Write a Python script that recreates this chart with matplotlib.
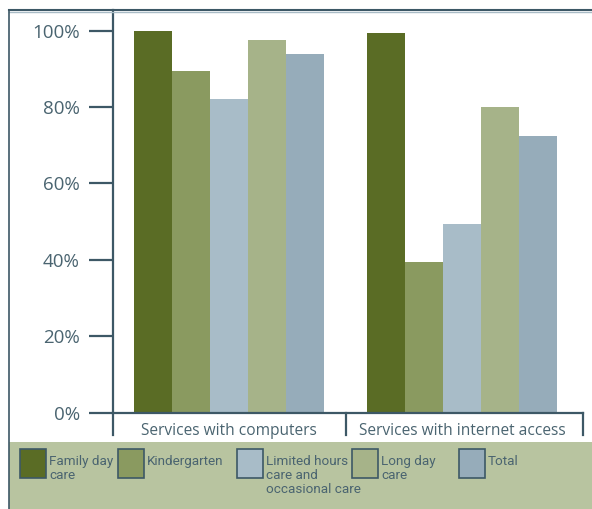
import numpy as np
import matplotlib.pyplot as plt
from matplotlib.patches import Rectangle
from matplotlib.lines import Line2D

categories = ["Services with computers", "Services with internet access"]
series_names = ["Family day\ncare", "Kindergarten",
                "Limited hours\ncare and\noccasional care", "Long day\ncare", "Total"]
family_day_care = [100, 99.5]
kindergarten = [89.5, 39.5]
limited_hours = [82, 49.5]
long_day_care = [97.5, 80]
total = [94, 72.5]
yticks = [0, 20, 40, 60, 80, 100]

series = [family_day_care, kindergarten, limited_hours, long_day_care, total]
colors = ["#5a6c25", "#8a9a60", "#a8bcc8", "#a6b389", "#96acba"]
axis_col = "#3d5866"
text_col = "#4a6470"
band_col = "#b8c4a0"

plt.rcParams['font.family'] = ['Open Sans', 'DejaVu Sans']

W, H = 592, 509
fx = lambda px: px / W
fy = lambda py: 1 - py / H

fig = plt.figure(figsize=(W / 100, H / 100), dpi=100)
fig.patch.set_facecolor("white")

# legend band at the bottom
fig.patches.append(Rectangle((fx(9), 0), 1 - fx(9), fy(442), transform=fig.transFigure,
                             facecolor=band_col, edgecolor="none", zorder=0))
# outer frame: top and left
fig.lines.append(Line2D([fx(9), 1], [fy(10), fy(10)], transform=fig.transFigure,
                        color=axis_col, lw=1.5))
fig.lines.append(Line2D([fx(9), 1], [fy(11.5), fy(11.5)], transform=fig.transFigure,
                        color="#a9bcc6", lw=1))
fig.lines.append(Line2D([fx(9), fx(9)], [0, fy(10)], transform=fig.transFigure,
                        color=axis_col, lw=1.2))

ax = fig.add_axes([fx(113), fy(412.7), (583 - 113) / W, (412.7 - 10) / H])
ax.set_facecolor("none")

x = np.arange(len(categories))
w = 0.1634
for i, vals in enumerate(series):
    ax.bar(x + (i - 2) * w, vals, width=w, color=colors[i], edgecolor="none", zorder=2)

ax.set_xlim(-0.5, 1.52)
ax.set_ylim(0, 105.4)
ax.set_yticks(yticks)
ax.set_yticklabels([f"{t}%" for t in yticks])
ax.set_xticks([])
ax.tick_params(axis="y", direction="out", length=17, width=1.6, color=axis_col,
               labelcolor=text_col, labelsize=13.5, pad=7)
for s in ["top", "right"]:
    ax.spines[s].set_visible(False)
for s in ["left", "bottom"]:
    ax.spines[s].set_color(axis_col)
    ax.spines[s].set_linewidth(1.6)

# category separators below the axis
for sx in [-0.5, 0.5, 1.52]:
    ax.plot([sx, sx], [0, -5.9], color=axis_col, lw=1.6, clip_on=False)
for xi, cat in zip(x, categories):
    ax.text(xi, -4.9, cat, ha="center", va="center", fontsize=11.2, color=text_col)

# legend
patch_x = [20, 118, 237, 352, 459]
for px, name, c in zip(patch_x, series_names, colors):
    fig.patches.append(Rectangle((fx(px), fy(478)), 26 / W, 29 / H, transform=fig.transFigure,
                                 facecolor=c, edgecolor=axis_col, lw=1.2))
    fig.text(fx(px + 29), fy(455), name, ha="left", va="top", fontsize=9.7,
             color=text_col, linespacing=1.08, family=["Roboto", "DejaVu Sans"])

fig.savefig("out.png", dpi=100)
